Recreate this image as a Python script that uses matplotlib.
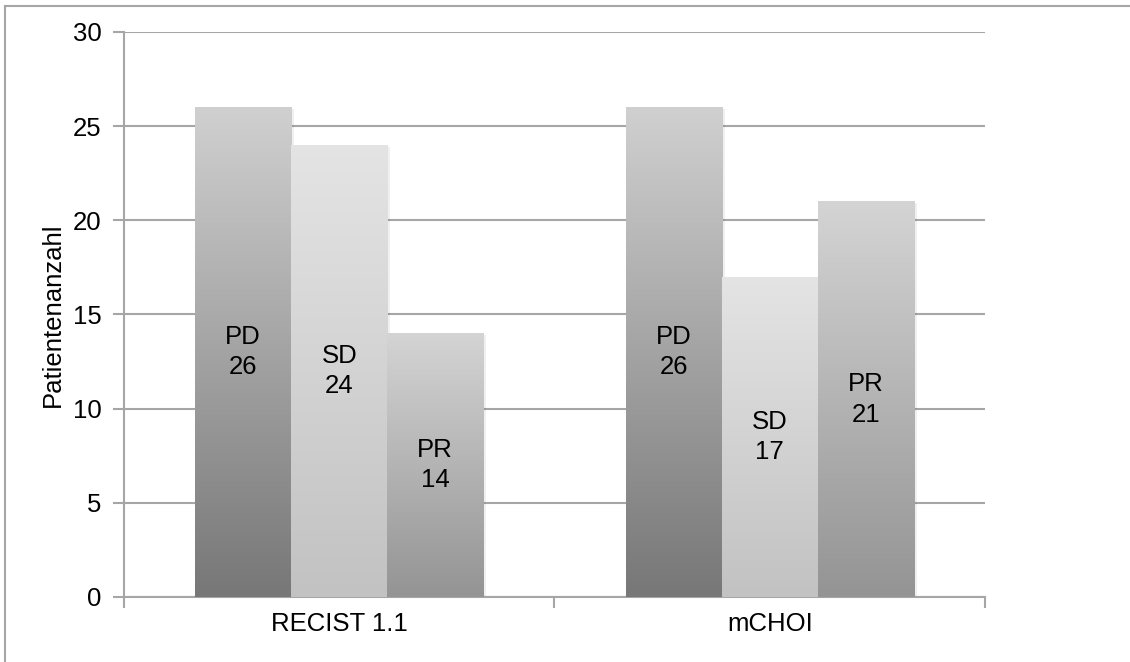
import numpy as np
import matplotlib
matplotlib.use("Agg")
import matplotlib.pyplot as plt
from matplotlib.colors import LinearSegmentedColormap
from matplotlib.lines import Line2D

plt.rcParams["font.family"] = ["Liberation Sans", "DejaVu Sans"]

groups = ["RECIST 1.1", "mCHOI"]
series = ["PD", "SD", "PR"]
values = {"PD": [26, 26], "SD": [24, 17], "PR": [14, 21]}
# gradient top -> bottom per series
shades = {"PD": ("#d0d0d0", "#777777"),
          "SD": ("#e4e4e4", "#c2c2c2"),
          "PR": ("#d4d4d4", "#949494")}

GRID = "#a6a6a6"
FS = 18.5

fig = plt.figure(figsize=(11.3, 6.62), dpi=100)
ax = fig.add_axes([0.1097, 0.0982, 0.762, 0.8535])

x = np.arange(len(groups))
w = 0.223
grad = np.linspace(1, 0, 256).reshape(-1, 1)
for k, s in enumerate(series):
    pos = x + (k - 1) * w
    bars = ax.bar(pos, values[s], width=w, color="none", edgecolor="none", zorder=3)
    cmap = LinearSegmentedColormap.from_list(s, [shades[s][1], shades[s][0]])
    for b, v in zip(bars, values[s]):
        x0, x1 = b.get_x(), b.get_x() + b.get_width()
        # faint shadow on the right
        ax.fill_between([x1, x1 + 0.007], 0, v - 0.1, color="#000000", alpha=0.06,
                        zorder=2, linewidth=0)
        im = ax.imshow(grad, cmap=cmap, aspect="auto", extent=(x0, x1, 0, v),
                       zorder=3, interpolation="bicubic")
        im.set_clip_path(b)
        ax.text(b.get_x() + w / 2, v / 2, f"{s}\n{v}", ha="center", va="center",
                fontsize=FS, color="black", zorder=4, linespacing=1.35)

ax.set_xlim(-0.5, 1.5)
ax.set_ylim(0, 30)
ax.set_yticks(range(0, 31, 5))
ax.set_xticks(x)
ax.set_xticklabels(groups)
ax.tick_params(axis="x", length=0, labelsize=FS, pad=11)
ax.tick_params(axis="y", length=8, width=1.5, color=GRID, labelsize=FS, pad=8)
ax.set_xticks([-0.5, 0.5, 1.5], minor=True)
ax.tick_params(axis="x", which="minor", length=8, width=1.5, color=GRID)
ax.yaxis.grid(True, color=GRID, linewidth=1.5, zorder=0)
ax.set_axisbelow(True)
for side in ["top", "right"]:
    ax.spines[side].set_visible(False)
for side in ["left", "bottom"]:
    ax.spines[side].set_color(GRID)
    ax.spines[side].set_linewidth(1.5)
ax.set_ylabel("Patientenanzahl", fontsize=FS, labelpad=6)

# outer chart frame (left and top edges visible)
fig.add_artist(Line2D([5 / 1130, 5 / 1130], [0, 1 - 6 / 662], color=GRID, lw=1.5))
fig.add_artist(Line2D([5 / 1130, 1], [1 - 6 / 662, 1 - 6 / 662], color=GRID, lw=1.5))

fig.savefig("out.png", dpi=100)
